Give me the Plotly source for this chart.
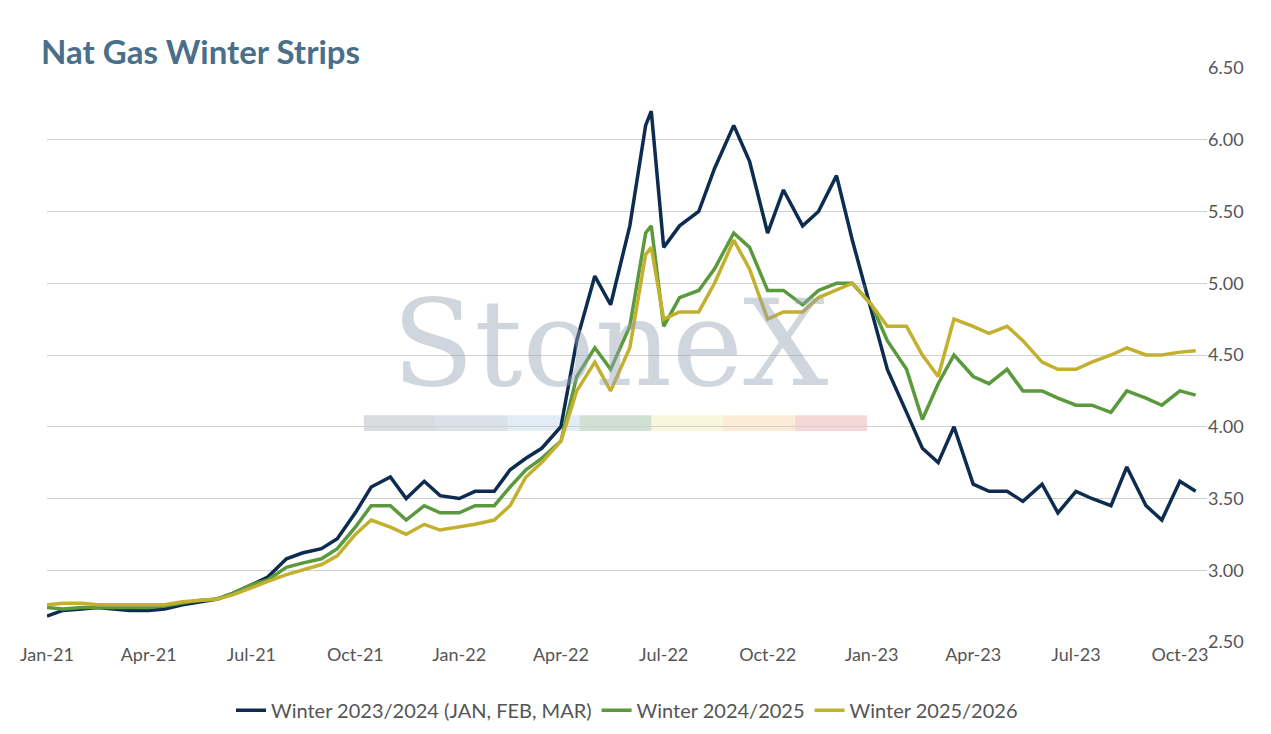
import plotly.graph_objects as go
import pandas as pd

dates = []
for y in (2021, 2022, 2023):
    for m in range(1, 13):
        if y == 2023 and m > 10:
            break
        dates.append(f"{y}-{m:02d}-01")
        dates.append(f"{y}-{m:02d}-15")
        if y == 2022 and m == 6:
            dates.append("2022-06-20")
dates = [d for d in dates if d <= "2023-10-15"]

w2324 = [2.68,2.72,2.73,2.74,2.73,2.72,2.72,2.73,2.76,2.78,2.80,2.84,2.90,2.95,3.08,3.12,3.15,3.22,3.40,3.58,3.65,3.50,3.62,3.52,
         3.50,3.55,3.55,3.70,3.78,3.85,4.00,4.60,5.05,4.85,5.40,6.10,6.20,5.25,5.40,5.50,5.80,6.10,5.85,5.35,5.65,5.40,5.50,5.75,5.30,
         4.80,4.40,4.10,3.85,3.75,4.00,3.60,3.55,3.55,3.48,3.60,3.40,3.55,3.50,3.45,3.72,3.45,3.35,3.62,3.55]
w2425 = [2.74,2.73,2.74,2.74,2.74,2.74,2.74,2.75,2.77,2.79,2.80,2.84,2.90,2.93,3.02,3.05,3.08,3.15,3.30,3.45,3.45,3.35,3.45,3.40,
         3.40,3.45,3.45,3.58,3.70,3.78,3.90,4.35,4.55,4.40,4.70,5.35,5.40,4.70,4.90,4.95,5.10,5.35,5.25,4.95,4.95,4.85,4.95,5.00,5.00,
         4.85,4.60,4.40,4.05,4.30,4.50,4.35,4.30,4.40,4.25,4.25,4.20,4.15,4.15,4.10,4.25,4.20,4.15,4.25,4.22]
w2526 = [2.76,2.77,2.77,2.76,2.76,2.76,2.76,2.76,2.78,2.79,2.80,2.83,2.88,2.92,2.97,3.00,3.04,3.10,3.25,3.35,3.30,3.25,3.32,3.28,
         3.30,3.32,3.35,3.45,3.65,3.75,3.90,4.25,4.45,4.25,4.55,5.20,5.25,4.75,4.80,4.80,5.00,5.30,5.10,4.75,4.80,4.80,4.90,4.95,5.00,
         4.85,4.70,4.70,4.50,4.35,4.75,4.70,4.65,4.70,4.60,4.45,4.40,4.40,4.45,4.50,4.55,4.50,4.50,4.52,4.53]

names = ["Winter 2023/2024 (JAN, FEB, MAR)", "Winter 2024/2025", "Winter 2025/2026"]
colors = ["#0d2c4f", "#5a9a3c", "#c3b02e"]
series = [w2324, w2425, w2526]

fig = go.Figure()
for n, c, s in zip(names, colors, series):
    fig.add_trace(go.Scatter(x=pd.to_datetime(dates), y=s, name=n, mode="lines",
                             line=dict(color=c, width=3.5)))

fig.add_annotation(text="StoneX", xref="paper", yref="paper", x=0.485, y=0.52,
                   showarrow=False, font=dict(family="DejaVu Serif", size=120, color="rgba(150,165,180,0.45)"))
fig.add_annotation(text="™", xref="paper", yref="paper", x=0.71, y=0.61,
                   showarrow=False, font=dict(family="DejaVu Sans", size=18, color="rgba(150,165,180,0.45)"))
bar_colors = ["rgba(140,155,170,0.35)", "rgba(150,170,190,0.35)", "rgba(170,200,225,0.35)",
              "rgba(120,170,130,0.35)", "rgba(240,230,160,0.35)", "rgba(245,200,140,0.35)", "rgba(230,140,140,0.35)"]
x0 = (357 - 42) / 1153
w = (500 / 7) / 1153
for i, bc in enumerate(bar_colors):
    fig.add_shape(type="rect", xref="paper", yref="paper", x0=x0 + i * w, x1=x0 + (i + 1) * w,
                  y0=(644 - 432) / 577, y1=(644 - 416) / 577, fillcolor=bc, line_width=0, layer="below")

fig.update_layout(
    width=1271, height=734, paper_bgcolor="white", plot_bgcolor="white",
    font=dict(family="Lato", size=18, color="#555555"),
    title=dict(text="<b>Nat Gas Winter Strips</b>", x=0.026, y=0.955, font=dict(size=33, color="#4a6f8a", family="Lato")),
    margin=dict(l=34, r=72, t=60, b=89),
    legend=dict(orientation="h", x=0.5, xanchor="center", y=-0.085, yanchor="top", font=dict(size=20)),
    xaxis=dict(range=["2021-01-01", "2023-10-25"], tickformat="%b-%y", dtick="M3", tick0="2021-01-01",
               showgrid=False, ticks="", showline=False),
    yaxis=dict(side="right", range=[2.5, 6.5], dtick=0.5, tickformat=".2f", gridcolor="#d0d0d0",
               zeroline=False, ticks=""),
)
fig.write_html("out.html")
